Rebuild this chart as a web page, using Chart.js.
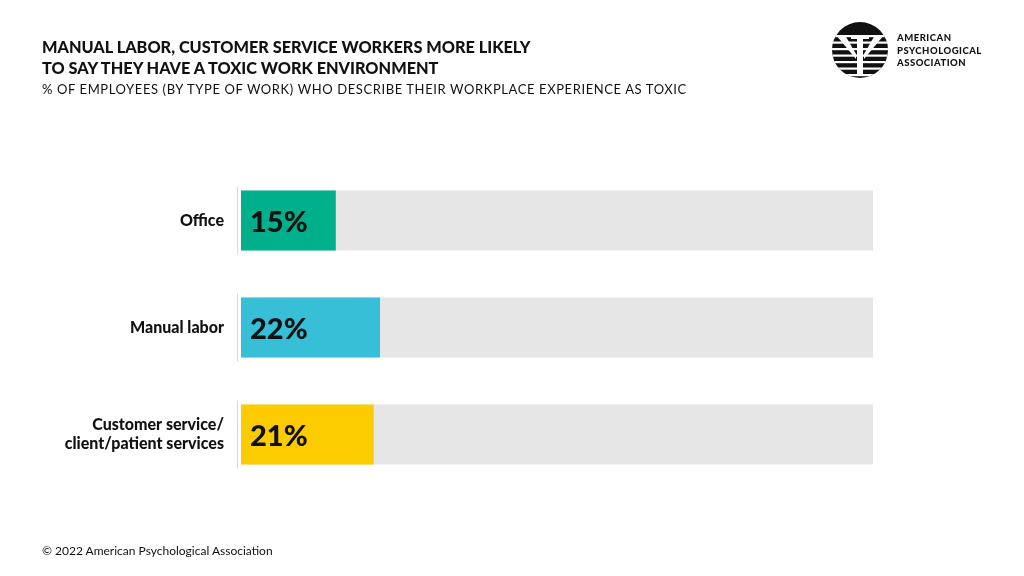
<!DOCTYPE html>
<html>
<head>
<meta charset="utf-8">
<script src="https://cdn.jsdelivr.net/npm/chart.js@4.4.1/dist/chart.umd.min.js"></script>
<style>
  html, body { margin: 0; padding: 0; background: #fff; }
  #wrap { position: relative; width: 1024px; height: 576px; overflow: hidden; font-family: Lato, "Open Sans", sans-serif; color: #111; }
  #chartBox { position: absolute; left: 0; top: 0; width: 1024px; height: 576px; }
  .title { position: absolute; left: 42px; top: 36px; font-weight: 900; font-size: 16.3px; line-height: 21px; }
  .sub { position: absolute; left: 42px; top: 81px; font-size: 13px; letter-spacing: 0.6px; }
  .foot { position: absolute; left: 42px; top: 543px; font-size: 12px; }
  .logoText { position: absolute; left: 897px; top: 32px; font-weight: 900; font-size: 9.5px; line-height: 12.5px; letter-spacing: 0.5px; }
</style>
</head>
<body>
<div id="wrap">
  <div id="chartBox"><canvas id="grafico"></canvas></div>
  <div class="title">MANUAL LABOR, CUSTOMER SERVICE WORKERS MORE LIKELY<br>TO SAY THEY HAVE A TOXIC WORK ENVIRONMENT</div>
  <div class="sub">% OF EMPLOYEES (BY TYPE OF WORK) WHO DESCRIBE THEIR WORKPLACE EXPERIENCE AS TOXIC</div>
  <div class="foot">© 2022 American Psychological Association</div>
  <div class="logoText">AMERICAN<br>PSYCHOLOGICAL<br>ASSOCIATION</div>
</div>
<script>
// dados
const categorias = [
    "Office",
    "Manual labor",
    ["Customer service/", "client/patient services"]
];

const valores = [15, 22, 21];
const trilha = [100, 100, 100];
const cores = ["#00b08c", "#36bfd7", "#fccb00"];

// rótulos dentro das barras + linha do eixo por barra
const rotulosBarra = {
    id: "rotulosBarra",
    afterDatasetsDraw(chart) {
        const ctx = chart.ctx;
        const meta = chart.getDatasetMeta(1);
        ctx.save();
        meta.data.forEach((bar, i) => {
            const h = bar.height;
            ctx.strokeStyle = "#d9d9d9";
            ctx.lineWidth = 1;
            ctx.beginPath();
            ctx.moveTo(237.5, bar.y - h / 2 - 4);
            ctx.lineTo(237.5, bar.y + h / 2 + 4);
            ctx.stroke();

            ctx.fillStyle = "#111";
            ctx.font = "900 29px Lato, 'Open Sans', sans-serif";
            ctx.textAlign = "left";
            ctx.textBaseline = "middle";
            ctx.fillText(valores[i] + "%", bar.base + 9, bar.y + 2);
        });
        ctx.restore();
    }
};

// logo da APA
const logo = {
    id: "logo",
    afterDraw(chart) {
        const ctx = chart.ctx;
        const cx = 860, cy = 50, r = 28;
        ctx.save();
        ctx.beginPath();
        ctx.arc(cx, cy, r, 0, Math.PI * 2);
        ctx.fillStyle = "#111";
        ctx.fill();
        ctx.clip();
        ctx.fillStyle = "#fff";
        for (let y = cy - 15; y < cy + r; y += 6.5) {
            ctx.fillRect(cx - r, y, r * 2, 2.2);
        }
        // psi
        ctx.beginPath();
        ctx.moveTo(cx - 24, cy - 15);
        ctx.lineTo(cx - 15, cy - 15);
        ctx.lineTo(cx - 4, cy + 4);
        ctx.lineTo(cx - 4, cy + 9);
        ctx.closePath();
        ctx.fill();
        ctx.beginPath();
        ctx.moveTo(cx + 24, cy - 15);
        ctx.lineTo(cx + 15, cy - 15);
        ctx.lineTo(cx + 4, cy + 4);
        ctx.lineTo(cx + 4, cy + 9);
        ctx.closePath();
        ctx.fill();
        ctx.fillRect(cx - 9, cy - 15, 18, 4);
        ctx.fillRect(cx - 3, cy - 15, 6, 40);
        ctx.restore();
    }
};

new Chart(document.getElementById("grafico"), {
    type: "bar",
    data: {
        labels: categorias,
        datasets: [
            {
                data: trilha,
                backgroundColor: "#e6e6e6",
                grouped: false,
                order: 2,
                barPercentage: 0.56,
                categoryPercentage: 1
            },
            {
                data: valores,
                backgroundColor: cores,
                grouped: false,
                order: 1,
                barPercentage: 0.56,
                categoryPercentage: 1
            }
        ]
    },
    options: {
        indexAxis: "y",
        responsive: true,
        maintainAspectRatio: false,
        animation: false,
        layout: {
            padding: { top: 167, bottom: 88, left: 0, right: 151 }
        },
        plugins: {
            legend: { display: false },
            tooltip: { enabled: false }
        },
        scales: {
            x: {
                display: false,
                min: 0,
                max: 100
            },
            y: {
                grid: { display: false, drawTicks: false },
                border: { display: false },
                afterFit: s => { s.width = 241; },
                ticks: {
                    color: "#111",
                    padding: 17,
                    font: { family: "Lato, 'Open Sans', sans-serif", size: 16, weight: "900", lineHeight: 1.2 }
                }
            }
        }
    },
    plugins: [rotulosBarra, logo]
});
</script>
</body>
</html>
